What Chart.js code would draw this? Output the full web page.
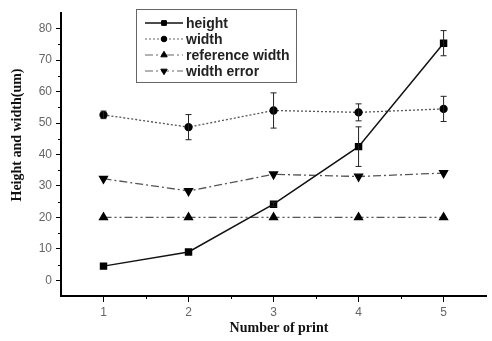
<!DOCTYPE html>
<html>
<head>
<meta charset="utf-8">
<script src="https://cdn.jsdelivr.net/npm/chart.js@4.4.1/dist/chart.umd.min.js"></script>
<style>
    html, body { margin: 0; padding: 0; background: #fff; }
    canvas { display: block; }
</style>
</head>
<body>
<canvas id="printChart" width="492" height="341"></canvas>
<script>

/* ===============================
   DATA
=============================== */

const printNumbers = [1, 2, 3, 4, 5];

const heightValues = [4.5, 9.0, 24.2, 42.5, 75.4];
const heightErrors = [0, 0, 0.6, 6.3, 4.0];

const widthValues = [52.6, 48.7, 54.0, 53.4, 54.5];
const widthErrors = [1.2, 4.0, 5.6, 2.7, 4.0];

const refWidthValues = [20, 20, 20, 20, 20];

const widthErrorValues = [32.3, 28.4, 33.7, 33.0, 34.1];

const xTickValues = [1, 2, 3, 4, 5];
const yTickValues = [0, 10, 20, 30, 40, 50, 60, 70, 80];

const seriesLabels = ["height", "width", "reference width", "width error"];


/* ===============================
   HELPERS
=============================== */

function toPoints(values) {
    return printNumbers.map((x, i) => ({ x: x, y: values[i] }));
}

function setTicks(values) {
    return function (scale) {
        scale.ticks = values.map(v => ({ value: v }));
    };
}


/* ===============================
   PLUGINS
=============================== */

// error bars, drawn through the scales
const errorBarPlugin = {
    id: "errorBars",
    afterDatasetsDraw(chart) {
        const ctx = chart.ctx;
        const xs = chart.scales.x;
        const ys = chart.scales.y;

        chart.data.datasets.forEach(ds => {
            if (!ds.errors) return;
            ctx.save();
            ctx.strokeStyle = "#222";
            ctx.lineWidth = 1;
            ds.data.forEach((p, i) => {
                const e = ds.errors[i];
                if (!e) return;
                const px = xs.getPixelForValue(p.x);
                const top = ys.getPixelForValue(p.y + e);
                const bot = ys.getPixelForValue(p.y - e);
                ctx.beginPath();
                ctx.moveTo(px, top);
                ctx.lineTo(px, bot);
                ctx.moveTo(px - 3, top);
                ctx.lineTo(px + 3, top);
                ctx.moveTo(px - 3, bot);
                ctx.lineTo(px + 3, bot);
                ctx.stroke();
            });
            ctx.restore();
        });
    }
};

// minor tick marks on both axes
const minorTickPlugin = {
    id: "minorTicks",
    afterDraw(chart) {
        const ctx = chart.ctx;
        const xs = chart.scales.x;
        const ys = chart.scales.y;
        const area = chart.chartArea;

        ctx.save();
        ctx.strokeStyle = "#000";
        ctx.lineWidth = 1;
        ctx.beginPath();

        for (let v = 1.5; v < 5.5; v += 1) {
            const px = Math.round(xs.getPixelForValue(v)) + 0.5;
            ctx.moveTo(px, area.bottom);
            ctx.lineTo(px, area.bottom + 3);
        }

        for (let v = 5; v < 85; v += 10) {
            const py = Math.round(ys.getPixelForValue(v)) + 0.5;
            ctx.moveTo(area.left, py);
            ctx.lineTo(area.left - 3, py);
        }

        ctx.stroke();
        ctx.restore();
    }
};

// axis titles
const axisTitlePlugin = {
    id: "axisTitles",
    afterDraw(chart) {
        const ctx = chart.ctx;
        ctx.save();
        ctx.fillStyle = "#111";
        ctx.font = "bold 14px 'Liberation Serif', 'Times New Roman', serif";
        ctx.textAlign = "center";
        ctx.textBaseline = "middle";

        ctx.fillText("Number of print", 279, 328);

        ctx.translate(17, 135);
        ctx.rotate(-Math.PI / 2);
        ctx.fillText("Height and width(um)", 0, 0);
        ctx.restore();
    }
};

// boxed legend inside the plot
const boxLegendPlugin = {
    id: "boxLegend",
    afterDraw(chart) {
        const ctx = chart.ctx;
        const left = 136, top = 9, w = 160, h = 73;
        const rowY = [23, 39, 55, 71];

        ctx.save();
        ctx.fillStyle = "#fff";
        ctx.fillRect(left, top, w, h);
        ctx.strokeStyle = "#666";
        ctx.lineWidth = 1;
        ctx.strokeRect(left + 0.5, top + 0.5, w, h);

        chart.data.datasets.forEach((ds, i) => {
            const y = rowY[i];

            ctx.save();
            ctx.strokeStyle = i === 0 ? ds.borderColor : "#999";
            ctx.lineWidth = ds.borderWidth;
            ctx.setLineDash(ds.borderDash || []);
            ctx.beginPath();
            ctx.moveTo(145, y);
            ctx.lineTo(183, y);
            ctx.stroke();
            ctx.restore();

            ctx.fillStyle = "#000";
            ctx.strokeStyle = "#000";
            Chart.helpers.drawPoint(ctx, {
                pointStyle: ds.pointStyle,
                radius: ds.pointRadius * 0.8,
                rotation: ds.pointRotation || 0,
                borderWidth: 1
            }, 164, y);

            ctx.fillStyle = "#222";
            ctx.font = "bold 14px 'Liberation Sans', Arial, sans-serif";
            ctx.textAlign = "left";
            ctx.textBaseline = "middle";
            ctx.fillText(ds.label, 186, y + 1);
        });

        ctx.restore();
    }
};


/* ===============================
   CREATE CHART
=============================== */

const ctx = document.getElementById("printChart").getContext("2d");

const printChart = new Chart(ctx, {

    type: "line",

    data: {
        datasets: [
            {
                label: seriesLabels[0],
                data: toPoints(heightValues),
                errors: heightErrors,
                borderColor: "#111",
                borderWidth: 1.5,
                pointStyle: "rect",
                pointRadius: 4.2,
                pointBackgroundColor: "#000",
                pointBorderColor: "#000"
            },
            {
                label: seriesLabels[1],
                data: toPoints(widthValues),
                errors: widthErrors,
                borderColor: "#555",
                borderWidth: 1.3,
                borderDash: [2, 2],
                pointStyle: "circle",
                pointRadius: 3.5,
                pointBackgroundColor: "#000",
                pointBorderColor: "#000"
            },
            {
                label: seriesLabels[2],
                data: toPoints(refWidthValues),
                borderColor: "#555",
                borderWidth: 1.3,
                borderDash: [8, 3, 2, 3, 2, 3],
                pointStyle: "triangle",
                pointRadius: 4.6,
                pointBackgroundColor: "#000",
                pointBorderColor: "#000"
            },
            {
                label: seriesLabels[3],
                data: toPoints(widthErrorValues),
                borderColor: "#555",
                borderWidth: 1.3,
                borderDash: [8, 3, 2, 3],
                pointStyle: "triangle",
                pointRotation: 180,
                pointRadius: 4.6,
                pointBackgroundColor: "#000",
                pointBorderColor: "#000"
            }
        ]
    },

    options: {

        responsive: false,
        animation: false,
        devicePixelRatio: 1,

        layout: {
            padding: { top: 13, right: 1, left: 0, bottom: 0 }
        },

        plugins: {
            legend: { display: false },
            tooltip: { enabled: false }
        },

        scales: {

            x: {
                type: "linear",
                min: 0.5,
                max: 5.5,
                afterBuildTicks: setTicks(xTickValues),
                afterFit: function (scale) { scale.height = 45; },
                border: { display: true, color: "#000", width: 2 },
                grid: {
                    drawOnChartArea: false,
                    drawTicks: true,
                    tickLength: 6,
                    color: "#000"
                },
                ticks: {
                    color: "#666",
                    padding: 3,
                    font: { size: 12, family: "Arial, sans-serif" }
                }
            },

            y: {
                min: -5,
                max: 85,
                afterBuildTicks: setTicks(yTickValues),
                afterFit: function (scale) { scale.width = 61; },
                border: { display: true, color: "#000", width: 2 },
                grid: {
                    drawOnChartArea: false,
                    drawTicks: true,
                    tickLength: 5,
                    color: "#000"
                },
                ticks: {
                    color: "#666",
                    padding: 4,
                    font: { size: 12, family: "Arial, sans-serif" }
                }
            }

        }

    },

    plugins: [errorBarPlugin, minorTickPlugin, axisTitlePlugin, boxLegendPlugin]

});

</script>
</body>
</html>
